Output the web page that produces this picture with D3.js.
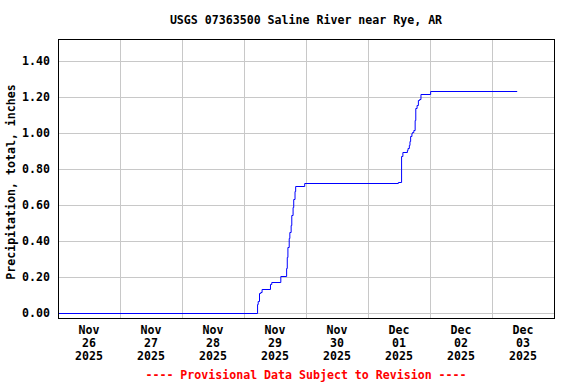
<!DOCTYPE html>
<html><head><meta charset="utf-8">
<script src="https://cdn.jsdelivr.net/npm/d3@7"></script>
<style>
html,body{margin:0;padding:0;background:#fff;}
text{font-family:"DejaVu Sans Mono","Liberation Mono",monospace;font-weight:bold;font-size:11.6px;}
</style></head>
<body><svg id="c" width="576" height="384"></svg>
<script>
const title = "USGS 07363500 Saline River near Rye, AR";
const yLabel = "Precipitation, total, inches";
const footer = "---- Provisional Data Subject to Revision ----";
const times = [
 "2025-11-26 00:00","2025-11-29 05:15","2025-11-29 05:30","2025-11-29 06:00","2025-11-29 06:30",
 "2025-11-29 07:00","2025-11-29 10:15","2025-11-29 10:45","2025-11-29 14:15","2025-11-29 16:30",
 "2025-11-29 16:45","2025-11-29 17:00","2025-11-29 17:30","2025-11-29 17:45","2025-11-29 18:15",
 "2025-11-29 18:30","2025-11-29 19:00","2025-11-29 19:15","2025-11-29 19:45","2025-11-29 20:00",
 "2025-11-29 23:30","2025-12-01 11:45","2025-12-01 13:00","2025-12-01 13:30","2025-12-01 15:15",
 "2025-12-01 15:30","2025-12-01 16:00","2025-12-01 16:15","2025-12-01 16:30","2025-12-01 17:00",
 "2025-12-01 17:15","2025-12-01 17:45","2025-12-01 18:15","2025-12-01 18:30","2025-12-01 19:00",
 "2025-12-01 19:30","2025-12-01 20:00","2025-12-01 20:30","2025-12-02 00:15","2025-12-03 09:45"
];
const values = [
 0.00,0.05,0.07,0.11,0.12,
 0.135,0.165,0.175,0.205,0.25,
 0.31,0.37,0.42,0.45,0.49,
 0.545,0.59,0.635,0.675,0.705,
 0.72,0.73,0.87,0.895,0.905,
 0.915,0.935,0.955,0.98,1.00,
 1.005,1.015,1.07,1.135,1.155,
 1.18,1.19,1.215,1.23,1.23
];
const xTickDays = ["2025-11-26","2025-11-27","2025-11-28","2025-11-29","2025-11-30","2025-12-01","2025-12-02","2025-12-03"];
const yTicks = [0.00,0.20,0.40,0.60,0.80,1.00,1.20,1.40];

const parse = d3.timeParse("%Y-%m-%d %H:%M");
const parseDay = d3.timeParse("%Y-%m-%d");
const data = times.map((t,i)=>({t:parse(t), v:values[i]}));
const days = xTickDays.map(parseDay);

const L=58, R=554, T=39, B=318;
const svg = d3.select("#c");
const x = d3.scaleTime().domain([parseDay("2025-11-26"), parseDay("2025-12-04")]).range([L,R]);
const y = d3.scaleLinear().domain([-0.026,1.52]).range([B,T]);

// grid
const g = svg.append("g");
g.selectAll(".vg").data(days.slice(1)).join("line")
 .attr("x1",d=>Math.round(x(d))+0.5).attr("x2",d=>Math.round(x(d))+0.5)
 .attr("y1",T).attr("y2",B).attr("stroke","#c8c8c8").attr("stroke-width",1);
g.selectAll(".hg").data(yTicks).join("line")
 .attr("x1",L).attr("x2",R)
 .attr("y1",d=>Math.round(y(d))+0.5).attr("y2",d=>Math.round(y(d))+0.5)
 .attr("stroke","#c8c8c8").attr("stroke-width",1);

// line
svg.append("clipPath").attr("id","cp").append("rect").attr("x",L).attr("y",T).attr("width",R-L).attr("height",B-T);
const line = d3.line().x(d=>x(d.t)).y(d=>Math.round(y(d.v))+0.5).curve(d3.curveStepAfter);
svg.append("path").datum(data).attr("d",line).attr("fill","none")
 .attr("stroke","#0000ff").attr("stroke-width",1).attr("clip-path","url(#cp)");

// frame
svg.append("rect").attr("x",L+0.5).attr("y",T+0.5).attr("width",R-L).attr("height",B-T)
 .attr("fill","none").attr("stroke","#000").attr("stroke-width",1);

// y tick labels
svg.selectAll(".yl").data(yTicks).join("text")
 .attr("x",50).attr("y",d=>y(d)).attr("dy","0.35em").attr("text-anchor","end")
 .text(d=>d3.format(".2f")(d));

// x tick labels
const fm = d3.timeFormat("%b"), fd = d3.timeFormat("%d"), fy = d3.timeFormat("%Y");
const xl = svg.selectAll(".xl").data(days).join("text")
 .attr("text-anchor","middle");
xl.each(function(d){
  const cx = x(d3.timeHour.offset(d,12));
  const s = d3.select(this);
  s.append("tspan").attr("x",cx).attr("y",334).text(fm(d));
  s.append("tspan").attr("x",cx).attr("y",347).text(fd(d));
  s.append("tspan").attr("x",cx).attr("y",360).text(fy(d));
});

// title
svg.append("text").attr("x",306).attr("y",24).attr("text-anchor","middle").text(title);
// y label
svg.append("text").attr("transform","translate(15,182) rotate(-90)").attr("text-anchor","middle").text(yLabel);
// footer
svg.append("text").attr("x",306).attr("y",379).attr("text-anchor","middle").attr("fill","#ff0000").text(footer);
</script></body></html>
